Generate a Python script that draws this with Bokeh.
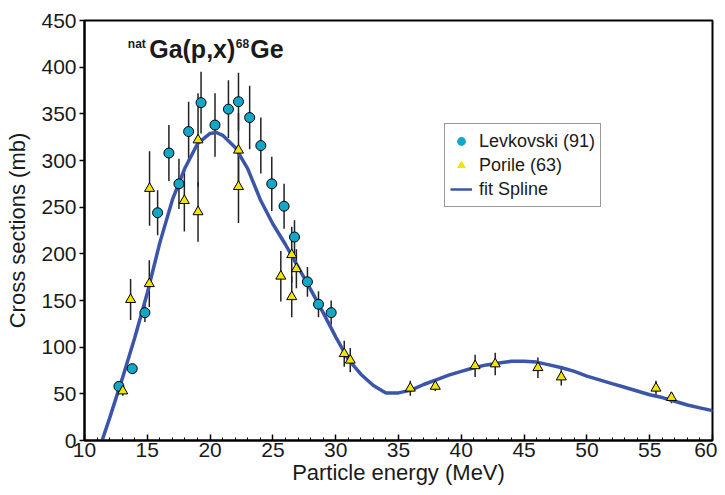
from bokeh.plotting import figure
from bokeh.models import Range1d, FixedTicker, Label, Legend, LegendItem, ColumnDataSource
from bokeh.embed import file_html
from bokeh.resources import INLINE

# Levkovski (91)
lev_e = [12.74, 13.80, 14.81, 15.82, 16.72, 17.52, 18.29, 19.28, 20.39, 21.46,
         22.26, 23.15, 24.04, 24.91, 25.89, 26.72, 27.75, 28.63, 29.64]
lev_s = [58, 77, 137, 244, 308, 275, 331, 362, 338, 355,
         363, 346, 316, 275, 251, 218, 170, 146, 137]
lev_err = [4, 5, 10, 24, 30, 27, 32, 33, 34, 31,
           31, 34, 30, 29, 24, 18, 16, 14, 13]

# Porile (63)
por_e = [13.05, 13.67, 15.18, 15.16, 17.95, 19.04, 19.04, 22.26, 22.26, 25.63,
         26.50, 26.50, 26.87, 30.68, 31.16, 35.94, 37.93, 41.10, 42.70, 46.10,
         47.96, 55.50, 56.73]
por_s = [53, 151, 270, 168, 257, 322, 245, 311, 272, 176,
         199, 154, 184, 93, 86, 56, 58, 80, 82, 78,
         68, 56, 46]
por_err = [5, 22, 40, 25, 33, 50, 32, 40, 39, 27,
           30, 22, 21, 14, 13, 8, 5, 12, 12, 11,
           9, 8, 6]

# fit Spline
fit_e = [11.4, 12, 13, 14, 15, 16, 17, 18, 19, 20, 20.5, 21, 22, 23, 24, 25, 26, 27, 28, 29,
         30, 31, 32, 33, 34, 35, 36, 37, 38, 39, 40, 41, 42, 43, 44, 45, 46, 47, 48, 49,
         50, 51, 52, 53, 54, 55, 56, 57, 58, 59, 60, 60.5]
fit_s = [0, 24, 66, 110, 158, 212, 258, 292, 318, 329, 330, 327, 314, 291, 258, 232, 210, 186, 162, 137,
         111, 87, 71, 59, 51, 51, 54, 60, 65, 70, 74, 78, 81, 83, 85, 85, 84, 81, 78, 74,
         69, 65, 61, 57, 53, 49, 46, 42, 38, 35, 32, 30]

x_ticks = [10, 15, 20, 25, 30, 35, 40, 45, 50, 55, 60]
y_ticks = [0, 50, 100, 150, 200, 250, 300, 350, 400, 450]

FONT = "Liberation Sans"
CYAN = "#14a6c6"
YELLOW = "#f3e500"
BLUE = "#3b55a8"
NAN = float("nan")

p = figure(width=717, height=487, x_range=Range1d(10, 60), y_range=Range1d(0, 450),
           output_backend="svg", toolbar_location=None,
           min_border_left=84, min_border_right=5, min_border_top=20, min_border_bottom=40)
p.xgrid.visible = False
p.ygrid.visible = False
p.outline_line_color = "black"
p.outline_line_width = 2
p.background_fill_color = "white"
p.border_fill_color = "white"

# axes
p.xaxis.ticker = FixedTicker(ticks=x_ticks, minor_ticks=list(range(10, 61)))
p.yaxis.ticker = FixedTicker(ticks=y_ticks)
for ax in (p.xaxis[0], p.yaxis[0]):
    ax.axis_line_color = "black"
    ax.axis_line_width = 2
    ax.major_tick_line_color = "black"
    ax.major_tick_line_width = 1.5
    ax.minor_tick_line_color = "black"
    ax.minor_tick_line_width = 1
    ax.major_label_text_font = FONT
    ax.major_label_text_font_size = "21px"
    ax.major_label_text_color = "#1a1a1a"
    ax.axis_label_text_font = FONT
    ax.axis_label_text_font_size = "22px"
    ax.axis_label_text_font_style = "normal"
    ax.axis_label_text_color = "#1a1a1a"
p.xaxis.major_tick_in = 6
p.xaxis.major_tick_out = 0
p.xaxis.minor_tick_in = 3
p.xaxis.minor_tick_out = 0
p.xaxis.major_label_standoff = 2
p.xaxis.axis_label_standoff = 0
p.yaxis.major_tick_in = 0
p.yaxis.major_tick_out = 5
p.yaxis.minor_tick_in = 0
p.yaxis.minor_tick_out = 0
p.yaxis.major_label_standoff = 3
p.yaxis.axis_label_standoff = 8
p.xaxis.axis_label = "Particle energy (MeV)"
p.yaxis.axis_label = "Cross sections (mb)"

# error bars
lev_src = ColumnDataSource(dict(
    x=lev_e, y=lev_s,
    lo=[s - e for s, e in zip(lev_s, lev_err)],
    hi=[s + e for s, e in zip(lev_s, lev_err)]))
por_src = ColumnDataSource(dict(
    x=por_e, y=por_s,
    lo=[s - e for s, e in zip(por_s, por_err)],
    hi=[s + e for s, e in zip(por_s, por_err)]))
p.segment(x0="x", y0="lo", x1="x", y1="hi", source=lev_src, line_color="#222222", line_width=1.5)
p.segment(x0="x", y0="lo", x1="x", y1="hi", source=por_src, line_color="#222222", line_width=1.5)

# spline
spline = p.line(fit_e, fit_s, line_color=BLUE, line_width=3.5)

# markers
p.scatter(x="x", y="y", source=lev_src, marker="circle", size=10,
          fill_color=CYAN, line_color="black", line_width=1)
p.scatter(x="x", y="y", source=por_src, marker="triangle", size=10,
          fill_color=YELLOW, line_color="black", line_width=1)

# legend proxies (no outline, like the reference key); NaN data so nothing is drawn on the plot
leg_c = p.scatter(x=[NAN], y=[NAN], marker="circle", fill_color=CYAN, line_color=None)
leg_t = p.scatter(x=[NAN], y=[NAN], marker="triangle", fill_color=YELLOW, line_color=None)
leg_l = p.line(x=[NAN, NAN], y=[NAN, NAN], line_color=BLUE, line_width=2.5)
legend = Legend(items=[LegendItem(label="Levkovski (91)", renderers=[leg_c]),
                       LegendItem(label="Porile (63)", renderers=[leg_t]),
                       LegendItem(label="fit Spline", renderers=[leg_l])],
                location=(360, 233), margin=0, padding=5, spacing=0,
                glyph_width=22, glyph_height=24, label_standoff=7,
                label_text_font=FONT, label_text_font_size="18px", label_text_color="#1a1a1a",
                border_line_color="#333333", border_line_width=1,
                background_fill_alpha=1.0)
p.add_layout(legend, "center")

# title with superscripts
p.add_layout(Label(x=13.45, y=425, text="nat", text_font=FONT, text_font_size="12px",
                   text_font_style="bold", text_baseline="alphabetic", text_color="#1a1a1a"))
p.add_layout(Label(x=15.15, y=420, text="Ga(p,x)", text_font=FONT, text_font_size="25px",
                   text_font_style="bold", text_baseline="alphabetic", text_color="#1a1a1a"))
p.add_layout(Label(x=22.05, y=425, text="68", text_font=FONT, text_font_size="12px",
                   text_font_style="bold", text_baseline="alphabetic", text_color="#1a1a1a"))
p.add_layout(Label(x=23.2, y=420, text="Ge", text_font=FONT, text_font_size="25px",
                   text_font_style="bold", text_baseline="alphabetic", text_color="#1a1a1a"))

open("out.html", "w").write(file_html(p, INLINE))
